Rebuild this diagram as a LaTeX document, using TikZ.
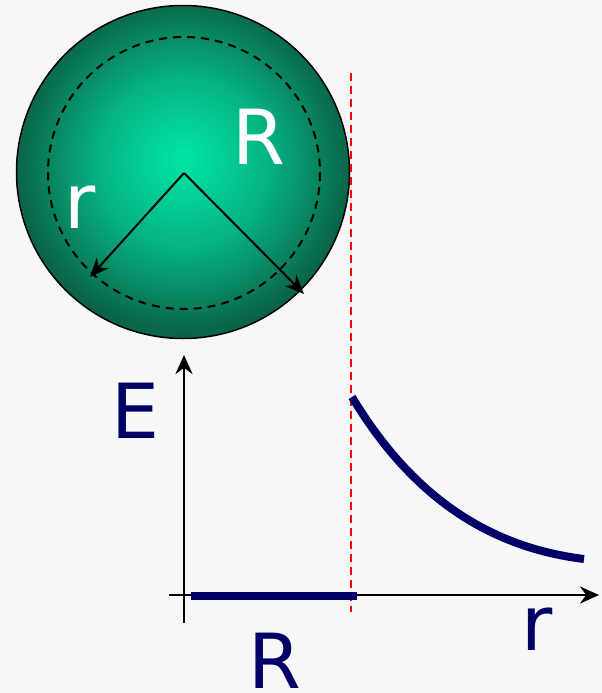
\documentclass[tikz,border=0pt]{standalone}
\usepackage{fontspec}
\newfontfamily\lab{DejaVu Sans}
\usetikzlibrary{arrows.meta}
\definecolor{navy}{RGB}{0,0,102}
\definecolor{bgc}{RGB}{247,247,247}
\definecolor{sphA}{RGB}{0,230,166}
\definecolor{sphM}{RGB}{6,178,130}
\definecolor{sphB}{RGB}{10,100,74}
\pgfdeclareradialshading{sphshade}{\pgfpoint{0bp}{2bp}}{color(0bp)=(sphA); color(13bp)=(sphM); color(25bp)=(sphB); color(50bp)=(sphB)}
\tikzset{
  lbl/.style={font=\lab\fontsize{76}{76}\selectfont, inner sep=0pt, anchor=base},
  navylbl/.style={lbl, text=navy},
  whitelbl/.style={lbl, text=white},
  axis/.style={line width=2pt, -{Stealth[length=19pt,width=17pt]}},
  radius arrow/.style={line width=2pt, -{Stealth[length=19pt,width=16pt]}},
  guide/.style={red, line width=2pt, dash pattern=on 8pt off 5pt},
  graph/.style={navy, line width=8pt}
}
\begin{document}
\begin{tikzpicture}[x=1pt,y=-1pt]
\useasboundingbox (0,0) rectangle (602,693);
\fill[bgc] (0,0) rectangle (602,693);
% sphere
\shade[shading=sphshade, draw=black, line width=1.5pt] (183,172) circle[radius=166.5];
\draw[line width=2pt, dash pattern=on 8pt off 6pt] (184,173) circle[radius=136];
\coordinate (c) at (184,173);
\coordinate (rtip) at (90,277);
\coordinate (Rtip) at (304,294);
\draw[radius arrow] (c) -- (rtip);
\draw[radius arrow] (c) -- (Rtip);
\node[whitelbl] (rl) at (80,228) {r};
\node[whitelbl] (Rl) at (259,164) {R};
% guide
\coordinate (gtop) at (351,73);
\coordinate (gbot) at (351,612);
\draw[guide] (gtop) -- (gbot);
% axes
\coordinate (ybot) at (184,623);
\coordinate (ytop) at (184,355);
\coordinate (xl) at (169,595);
\coordinate (xr) at (599,595);
\draw[axis] (ybot) -- (ytop);
\draw[axis] (xl) -- (xr);
% graph
\coordinate (g0) at (191,596);
\coordinate (g1) at (357,596);
\draw[graph] (g0) -- (g1);
\coordinate (cs) at (352,397);
\coordinate (ce) at (584,559);
\draw[graph] (cs) .. controls (411,495) and (487,547) .. (ce);
% labels
\node[navylbl] (El) at (136,438) {E};
\node[navylbl] (rax) at (537,650) {r};
\node[navylbl] (Rax) at (275,688) {R};
\end{tikzpicture}
\end{document}
